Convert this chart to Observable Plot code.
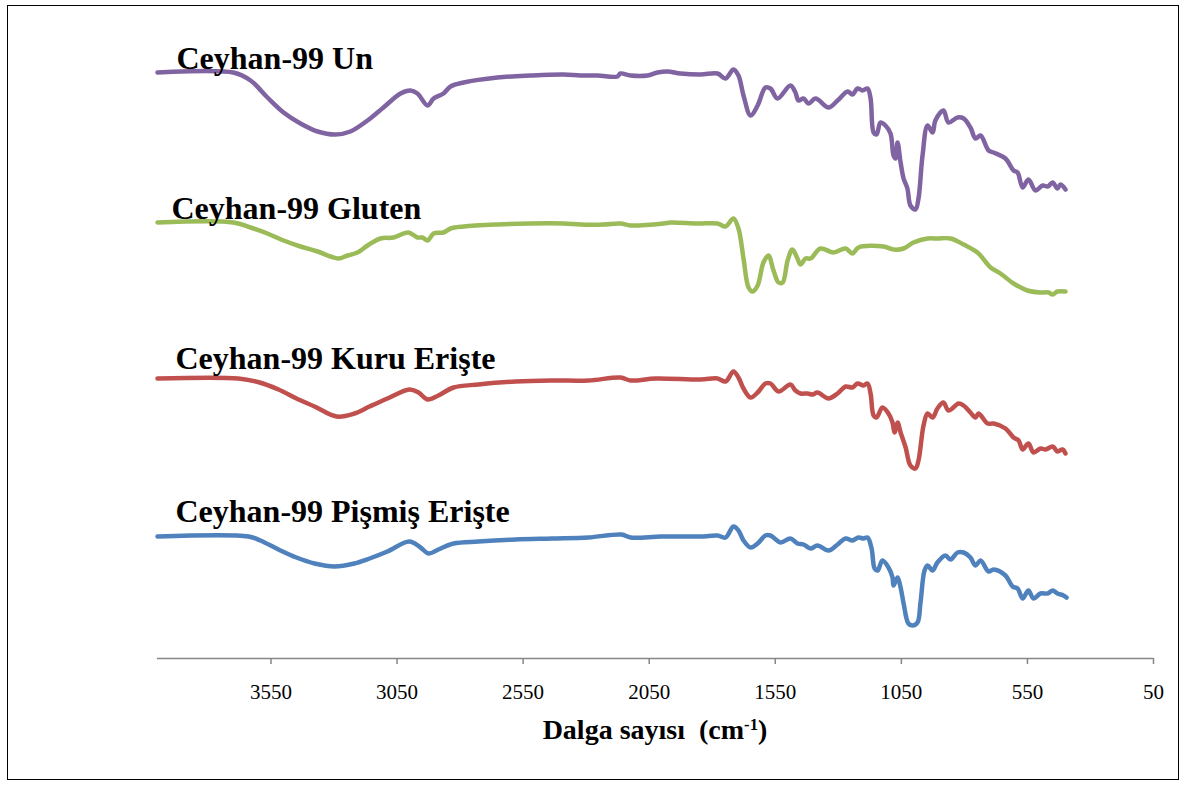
<!DOCTYPE html>
<html>
<head>
<meta charset="utf-8">
<script src="https://cdn.jsdelivr.net/npm/d3@7"></script>
<script src="https://cdn.jsdelivr.net/npm/@observablehq/plot@0.6"></script>
<style>
  html, body { margin: 0; padding: 0; background: #fff; }
  #frame {
    position: absolute; left: 7px; top: 5px;
    width: 1170px; height: 773px;
    border: 1px solid #000; background: #fff;
  }
  #plot { position: absolute; left: 0; top: 0; }
  #xtitle {
    position: absolute; left: 149px; width: 996px; top: 708px;
    text-align: center; font-family: "Liberation Serif", "Times New Roman", serif;
    font-weight: bold; font-size: 28px; line-height: 32px; color: #000;
  }
  #xtitle sup { font-size: 60%; vertical-align: 0.55em; line-height: 0; }
</style>
</head>
<body>
<div id="frame">
  <div id="plot"></div>
  <div id="xtitle">Dalga sayısı&nbsp; (cm<sup>-1</sup>)</div>
</div>
<script>
// FTIR spectra (wavenumber in cm-1, stacked transmittance in arbitrary units)
const unSpectrum = [[4000,586],[3699,586],[3631,578],[3564,561],[3500,546],[3433,535],[3365,527],[3294,524],[3235,527],[3167,538],[3104,551],[3036,565],[2997,568],[2969,565],[2929,553],[2905,560],[2866,565],[2838,572],[2786,576],[2652,581],[2521,583],[2390,584],[2322,583],[2255,583],[2176,582],[2164,585],[2124,583],[2057,583],[2017,586],[1977,587],[1926,585],[1846,584],[1779,585],[1747,580],[1716,589],[1696,583],[1676,563],[1648,543],[1620,553],[1589,571],[1569,570],[1541,560],[1490,573],[1470,566],[1458,558],[1438,560],[1418,555],[1390,560],[1339,551],[1303,558],[1263,567],[1244,564],[1224,570],[1204,568],[1184,570],[1172,560],[1160,526],[1148,524],[1133,536],[1113,533],[1093,525],[1081,503],[1073,500],[1065,516],[1053,496],[1041,480],[1026,470],[1014,453],[994,449],[982,460],[966,503],[946,533],[926,526],[915,538],[883,548],[863,536],[827,541],[803,540],[776,531],[756,520],[736,523],[704,508],[684,506],[637,500],[605,488],[589,486],[569,471],[546,479],[518,468],[490,473],[470,472],[450,476],[431,470],[419,474],[399,469]];

const glutenSpectrum = [[4000,436],[3699,436],[3631,431],[3564,425],[3500,418],[3433,412],[3365,407],[3314,402],[3282,400],[3246,403],[3207,406],[3167,413],[3116,420],[3064,421],[3005,426],[2969,421],[2949,421],[2929,418],[2905,425],[2866,426],[2838,430],[2786,432],[2652,434],[2521,435],[2390,435],[2322,434],[2231,434],[2164,435],[2124,433],[1993,435],[1965,436],[1858,435],[1779,435],[1747,432],[1716,440],[1696,430],[1676,400],[1656,371],[1640,367],[1620,373],[1597,396],[1577,403],[1557,388],[1537,376],[1521,376],[1501,398],[1482,409],[1462,400],[1450,394],[1430,400],[1410,400],[1371,410],[1319,406],[1271,410],[1244,405],[1220,411],[1121,412],[1081,409],[1041,410],[1002,416],[946,420],[907,420],[855,420],[803,414],[748,406],[696,391],[657,385],[605,375],[550,368],[498,366],[466,366],[450,364],[431,367],[399,367]];

const kuruSpectrum = [[4000,280],[3679,280],[3595,276],[3520,269],[3449,260],[3377,252],[3290,242],[3219,245],[3159,252],[3088,260],[3001,269],[2965,266],[2929,259],[2886,263],[2826,271],[2727,274],[2580,277],[2437,278],[2291,278],[2164,281],[2124,278],[2025,280],[1846,279],[1779,280],[1747,277],[1716,287],[1696,281],[1676,270],[1648,261],[1620,266],[1589,275],[1569,275],[1537,267],[1490,274],[1470,268],[1450,265],[1422,265],[1402,264],[1383,266],[1339,260],[1303,265],[1271,272],[1244,271],[1224,275],[1200,273],[1184,275],[1172,265],[1160,243],[1148,241],[1125,251],[1101,245],[1085,236],[1077,226],[1065,236],[1053,226],[1033,211],[1014,193],[994,190],[982,198],[962,233],[946,245],[926,241],[907,250],[883,256],[863,248],[823,255],[803,253],[776,246],[756,241],[744,245],[708,235],[684,235],[637,230],[605,221],[585,218],[569,209],[546,215],[526,206],[498,210],[478,209],[450,212],[431,207],[411,209],[399,205]];

const pismisSpectrum = [[4000,122],[3639,122],[3592,118],[3520,109],[3449,101],[3377,95],[3298,92],[3219,95],[3159,100],[3088,107],[3001,117],[2957,111],[2925,105],[2886,109],[2826,115],[2727,117],[2580,119],[2437,120],[2291,121],[2160,124],[2124,121],[2001,122],[1846,122],[1779,123],[1747,121],[1716,132],[1696,128],[1676,118],[1648,111],[1620,115],[1589,123],[1569,123],[1529,116],[1490,120],[1462,115],[1438,114],[1410,110],[1383,113],[1339,108],[1303,114],[1271,120],[1244,118],[1220,121],[1200,120],[1184,121],[1168,110],[1156,90],[1144,88],[1125,98],[1101,91],[1085,81],[1081,73],[1065,81],[1053,71],[1041,55],[1022,35],[1006,33],[986,36],[974,56],[958,88],[946,93],[926,88],[907,96],[875,103],[855,99],[827,106],[803,106],[776,101],[756,93],[736,98],[704,87],[684,89],[637,83],[609,72],[589,70],[569,60],[546,68],[526,60],[498,65],[470,65],[450,68],[431,65],[407,63],[395,61]];

const seriesNames = ["Ceyhan-99 Un", "Ceyhan-99 Gluten", "Ceyhan-99 Kuru Erişte", "Ceyhan-99 Pişmiş Erişte"];
const seriesData = [unSpectrum, glutenSpectrum, kuruSpectrum, pismisSpectrum];
const xTicks = [3550, 3050, 2550, 2050, 1550, 1050, 550, 50];

// styling
const seriesColors = ["#8064A2", "#9BBB59", "#C0504D", "#4F81BD"];
const labelDx = [19, 14, 18, 18];
const labelDy = [-14, -14, -20, -25];
const serif = "'Liberation Serif', 'Times New Roman', serif";

const rows = seriesData.flatMap((pts, i) =>
  pts.map(([wn, t]) => ({series: seriesNames[i], wn, t}))
);
const firstPoints = seriesData.map((pts, i) => ({series: seriesNames[i], wn: pts[0][0], t: pts[0][1]}));

const labelMarks = firstPoints.map((d, i) =>
  Plot.text([d], {
    x: "wn", y: "t", text: "series",
    textAnchor: "start", lineAnchor: "middle",
    dx: labelDx[i], dy: labelDy[i],
    fontSize: 32, fontWeight: "bold", fontFamily: serif, fill: "#000"
  })
);

const chart = Plot.plot({
  width: 1170,
  height: 712,
  marginLeft: 149,
  marginRight: 25,
  marginTop: 32,
  marginBottom: 60,
  style: {fontFamily: serif, background: "transparent", overflow: "visible"},
  x: {domain: [4000, 50], axis: null},
  y: {domain: [0, 620], axis: null},
  color: {domain: seriesNames, range: seriesColors},
  marks: [
    Plot.ruleY([0], {stroke: "#868686", strokeWidth: 1.5}),
    Plot.axisX(xTicks, {
      anchor: "bottom", tickSize: 6, tickPadding: 20,
      stroke: "#868686", strokeWidth: 1.5, fill: "#000",
      fontSize: 21, fontFamily: serif, tickFormat: d => String(d), label: null
    }),
    Plot.line(rows, {
      x: "wn", y: "t", z: "series", stroke: "series",
      strokeWidth: 4.5, curve: "catmull-rom",
      strokeLinejoin: "round", strokeLinecap: "round"
    }),
    ...labelMarks
  ]
});

document.getElementById("plot").append(chart);
</script>
</body>
</html>
